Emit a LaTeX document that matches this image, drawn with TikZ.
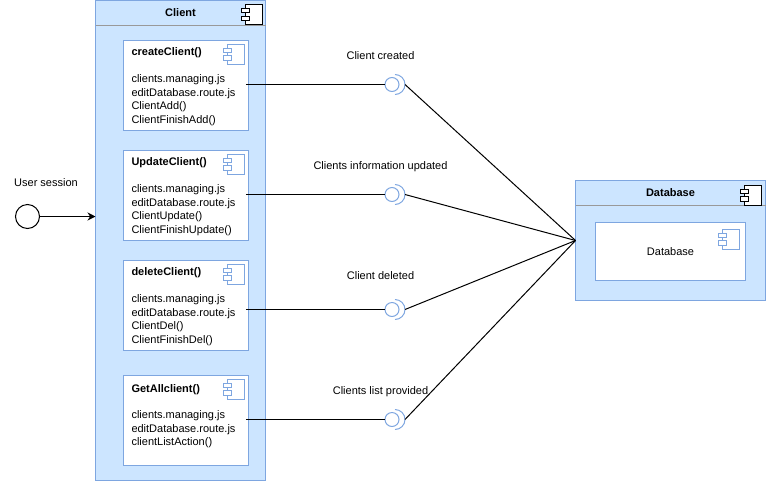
\documentclass[tikz,border=0pt]{standalone}
\usepackage{fontspec}
\setmainfont{Liberation Sans}
\usetikzlibrary{positioning,calc,arrows.meta}

\definecolor{boxfill}{HTML}{CCE5FF}
\definecolor{boxline}{HTML}{7EA6E0}

\newcommand{\funchead}[1]{\rule{0pt}{8pt}\textbf{#1}\\[10.1pt]}

\tikzset{
    every node/.style={font=\fontsize{8.25}{10.1}\selectfont, inner sep=0pt, outer sep=0pt},
    outerbox/.style={draw=boxline, fill=boxfill, line width=0.75pt, rectangle},
    innerbox/.style={draw=boxline, fill=white, line width=0.75pt, rectangle, minimum width=93.75pt, minimum height=67.25pt, align=left, text width=81.75pt},
    titleband/.style={font=\fontsize{8.25}{10}\selectfont\bfseries, anchor=north, minimum height=18.75pt},
    sepline/.style={draw=black!40, line width=0.75pt},
    socket/.style={circle, draw=boxline, fill=white, line width=0.75pt, minimum size=10.5pt},
    sockarc/.style={draw=boxline, line width=0.75pt},
    wire/.style={draw=black, line width=0.75pt},
    compicon/.pic={
        \draw[pic actions] (4,0) rectangle (21,20);
        \draw[pic actions] (0,4) rectangle (8,8.3);
        \draw[pic actions] (0,11.7) rectangle (8,16);
    }
}

\begin{document}
\begin{tikzpicture}[x=0.75pt, y=-0.75pt, node distance=15.25pt]

    \useasboundingbox (0,0) rectangle (766,482);

    % containers
    \node (client) [outerbox, minimum width=127.5pt, minimum height=360pt, anchor=north west] at (95.5,0.5) {};
    \node (clienttitle) [titleband] at (client.north) {Client};
    \draw[sepline] (clienttitle.south -| client.west) -- (clienttitle.south -| client.east);
    \pic[draw=black, fill=white, line width=0.75pt] at ([shift={(-24.5,4)}]client.north east) {compicon};

    \node (db) [outerbox, minimum width=142.5pt, minimum height=90pt, anchor=north west] at (575.5,180.5) {};
    \node (dbtitle) [titleband] at (db.north) {Database};
    \draw[sepline] (dbtitle.south -| db.west) -- (dbtitle.south -| db.east);
    \pic[draw=black, fill=white, line width=0.75pt] at ([shift={(-25,4.5)}]db.north east) {compicon};

    % client functions
    \node (b1) [innerbox, anchor=north west] at (123.5,40.5) {\funchead{createClient()}clients.managing.js\\editDatabase.route.js\\ClientAdd()\\ClientFinishAdd()};
    \node (b2) [innerbox, below=of b1] {\funchead{UpdateClient()}clients.managing.js\\editDatabase.route.js\\ClientUpdate()\\ClientFinishUpdate()};
    \node (b3) [innerbox, below=of b2] {\funchead{deleteClient()}clients.managing.js\\editDatabase.route.js\\ClientDel()\\ClientFinishDel()};
    \node (b4) [innerbox, below=19pt of b3] {\funchead{GetAllclient()}clients.managing.js\\editDatabase.route.js\\clientListAction()\\~};

    \pic[draw=boxline, fill=white, line width=0.75pt] at ([shift={(-25,3.5)}]b1.north east) {compicon};
    \pic[draw=boxline, fill=white, line width=0.75pt] at ([shift={(-25,3.5)}]b2.north east) {compicon};
    \pic[draw=boxline, fill=white, line width=0.75pt] at ([shift={(-25,3.5)}]b3.north east) {compicon};
    \pic[draw=boxline, fill=white, line width=0.75pt] at ([shift={(-25,3.5)}]b4.north east) {compicon};

    % database content
    \node (dbinner) [draw=boxline, fill=white, line width=0.75pt, minimum width=112.5pt, minimum height=43.75pt, anchor=north west] at (595.5,222) {Database};
    \pic[draw=boxline, fill=white, line width=0.75pt] at ([shift={(-27,7)}]dbinner.north east) {compicon};

    % user session
    \node (user) [circle, draw=black, fill=white, line width=0.75pt, minimum size=18pt] at (27.5,216.5) {};
    \node (userlabel) at (46,183) {User session};
    \draw[wire, -{Stealth[length=6pt, width=6pt]}] (user) -- (user -| client.west);

    % sockets
    \node (s1) [socket] at (392,84.5) {};
    \node (s2) [socket] at (392,194.5) {};
    \node (s3) [socket] at (392,309.5) {};
    \node (s4) [socket] at (392,419.5) {};

    \draw[sockarc] ($(s1.center)+(3,-10)$) arc (90:-90:7.5pt);
    \draw[sockarc] ($(s2.center)+(3,-10)$) arc (90:-90:7.5pt);
    \draw[sockarc] ($(s3.center)+(3,-10)$) arc (90:-90:7.5pt);
    \draw[sockarc] ($(s4.center)+(3,-10)$) arc (90:-90:7.5pt);

    \coordinate (a1) at ($(s1.center)+(13,0)$);
    \coordinate (a2) at ($(s2.center)+(13,0)$);
    \coordinate (a3) at ($(s3.center)+(13,0)$);
    \coordinate (a4) at ($(s4.center)+(13,0)$);

    \node (l1) at (380.5,56) {Client created};
    \node (l2) at (380.5,166.5) {Clients information updated};
    \node (l3) at (380.5,276) {Client deleted};
    \node (l4) at (380.5,391.5) {Clients list provided};

    \draw[wire] ([xshift=-2pt]s1 -| b1.east) -- (s1);
    \draw[wire] ([xshift=-2pt]s2 -| b2.east) -- (s2);
    \draw[wire] ([xshift=-2pt]s3 -| b3.east) -- (s3);
    \draw[wire] ([xshift=-2pt]s4 -| b4.east) -- (s4);

    \draw[wire] (a1) -- (db.west);
    \draw[wire] (a2) -- (db.west);
    \draw[wire] (a3) -- (db.west);
    \draw[wire] (a4) -- (db.west);

\end{tikzpicture}
\end{document}
